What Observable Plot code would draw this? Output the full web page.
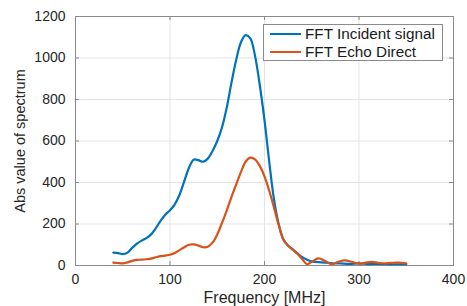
<!DOCTYPE html>
<html>
<head>
<meta charset="utf-8">
<script src="https://cdn.jsdelivr.net/npm/d3@7"></script>
<script src="https://cdn.jsdelivr.net/npm/@observablehq/plot@0.6"></script>
<style>
  body { margin: 0; background: #fff; }
  #wrap { position: relative; width: 467px; height: 306px; font-family: "Liberation Sans", Arial, sans-serif; }
  #legend { position: absolute; left: 263px; top: 24px; width: 178px; height: 35px; background: #fff; border: 1px solid #8a8a8a; }
  #legend .row { position: absolute; left: 6px; height: 18px; display: flex; align-items: center; font-size: 15.3px; color: #1a1a1a; white-space: nowrap; }
  #legend .sw { width: 31px; height: 2px; margin-right: 4px; }
</style>
</head>
<body>
<div id="wrap"></div>
<script>
// ---- data ----
const xTicks = [0, 100, 200, 300, 400];
const yTicks = [0, 200, 400, 600, 800, 1000, 1200];
const seriesNames = ["FFT Incident signal", "FFT Echo Direct"];
const seriesColors = ["#0072BD", "#D95319"];

const incidentFreq = [40,45,50,55,60,65,70,75,80,85,90,95,100,105,110,115,120,125,130,135,140,145,150,155,160,165,170,175,180,185,190,195,200,205,210,215,220,225,230,235,240,245,250,260,270,280,290,300,310,320,330,340,350];
const incidentAbs  = [62,60,55,62,85,105,120,132,150,180,215,245,266,295,340,405,470,510,508,500,515,552,600,665,760,880,990,1075,1110,1095,1010,870,700,500,320,200,125,95,78,58,40,28,20,15,12,10,8,10,7,8,6,6,5];

const echoFreq = [40,45,50,55,60,65,70,75,80,85,90,95,100,105,110,115,120,125,130,135,140,145,150,155,160,165,170,175,180,185,190,195,200,205,210,215,220,225,230,235,240,245,250,257,264,271,278,285,292,300,307,314,320,326,334,342,350];
const echoAbs  = [14,12,10,15,22,27,28,30,33,40,45,48,52,60,74,88,100,102,96,88,90,110,150,205,265,330,390,450,500,520,512,480,430,360,280,195,125,95,75,55,30,6,18,34,22,6,18,25,18,9,14,17,13,10,13,14,10];

const incident = incidentFreq.map((f, i) => ({f, v: incidentAbs[i]}));
const echo = echoFreq.map((f, i) => ({f, v: echoAbs[i]}));

const W = 467, H = 306, mT = 16, mB = 41, mL = 75, mR = 14;
const ph = H - mT - mB, pw = W - mL - mR;
const axisColor = "#8a8a8a";

const chart = Plot.plot({
  width: W, height: H,
  marginTop: mT, marginBottom: mB, marginLeft: mL, marginRight: mR,
  style: { fontFamily: '"Liberation Sans", Arial, sans-serif', color: "#262626", background: "#fff", overflow: "visible" },
  x: { domain: [0, 400] },
  y: { domain: [0, 1200] },
  marks: [
    Plot.gridX(xTicks, { stroke: "#e3e3e3", strokeOpacity: 1 }),
    Plot.gridY(yTicks, { stroke: "#e3e3e3", strokeOpacity: 1 }),
    Plot.frame({ stroke: axisColor }),
    // inward ticks on all four sides
    Plot.tickX(xTicks, { x: d => d, insetTop: ph - 4, stroke: axisColor }),
    Plot.tickX(xTicks, { x: d => d, insetBottom: ph - 4, stroke: axisColor }),
    Plot.tickY(yTicks, { y: d => d, insetRight: pw - 4, stroke: axisColor }),
    Plot.tickY(yTicks, { y: d => d, insetLeft: pw - 4, stroke: axisColor }),
    Plot.axisX(xTicks, { tickSize: 0, tickPadding: 9, fontSize: 14, label: null, tickFormat: d => String(d) }),
    Plot.axisY(yTicks, { tickSize: 0, tickPadding: 10, fontSize: 14, label: null, tickFormat: d => String(d) }),
    Plot.line(incident, { x: "f", y: "v", stroke: seriesColors[0], strokeWidth: 2.2, curve: "catmull-rom" }),
    Plot.line(echo, { x: "f", y: "v", stroke: seriesColors[1], strokeWidth: 2.2, curve: "catmull-rom" }),
    Plot.text(["Frequency [MHz]"], { frameAnchor: "bottom", text: d => d, dy: 26, fontSize: 16, lineAnchor: "top", textAnchor: "middle", fill: "#262626" }),
    Plot.text(["Abs value of spectrum"], { frameAnchor: "left", text: d => d, dx: -55, rotate: -90, fontSize: 14.5, textAnchor: "middle", lineAnchor: "middle", fill: "#262626" })
  ]
});

const wrap = document.getElementById("wrap");
wrap.appendChild(chart);

const legend = document.createElement("div");
legend.id = "legend";
seriesNames.forEach((name, i) => {
  const row = document.createElement("div");
  row.className = "row";
  row.style.top = (i * 17.5 + 0) + "px";
  const sw = document.createElement("span");
  sw.className = "sw";
  sw.style.background = seriesColors[i];
  const t = document.createElement("span");
  t.textContent = name;
  row.appendChild(sw);
  row.appendChild(t);
  legend.appendChild(row);
});
wrap.appendChild(legend);
</script>
</body>
</html>
